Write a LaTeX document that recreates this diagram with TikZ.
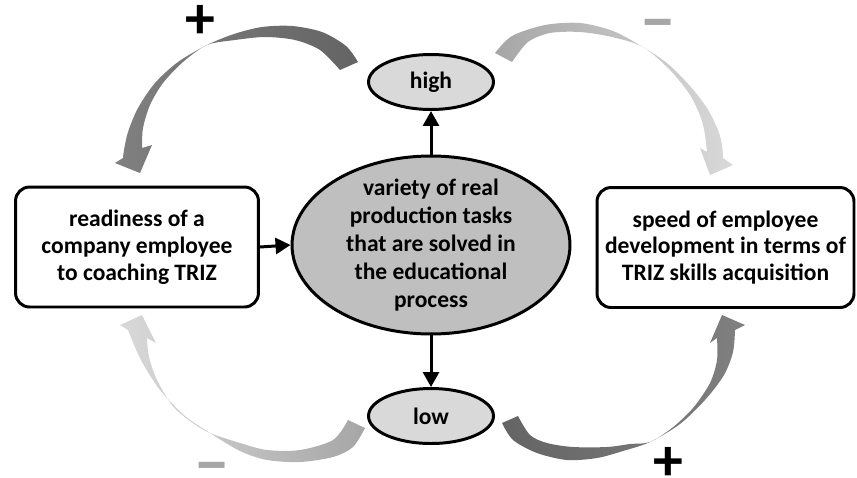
\documentclass[tikz,border=0pt]{standalone}
\usepackage{fontspec}
\setmainfont{Carlito}
\usetikzlibrary{arrows.meta, positioning, shapes.geometric}
\definecolor{taskgray}{RGB}{191,191,191}
\definecolor{levelgray}{RGB}{217,217,217}
\definecolor{darkarc}{RGB}{100,100,100}
\definecolor{midarc}{RGB}{128,128,128}
\definecolor{lightarc}{RGB}{166,166,166}
\definecolor{palearc}{RGB}{217,217,217}

\begin{document}
\begin{tikzpicture}[
    x=0.02cm, y=-0.02cm,
    box/.style={rectangle, draw, line width=1.7pt, rounded corners=8pt, fill=white, align=center, inner sep=0pt, minimum height=2.4cm, font=\bfseries\fontsize{13.4}{15.3}\selectfont},
    level/.style={ellipse, draw, line width=1.7pt, fill=levelgray, inner sep=0pt, minimum width=2.5cm, minimum height=1.1cm, font=\bfseries\fontsize{13.4}{15.3}\selectfont},
    arr/.style={-{Triangle[length=3mm, width=3.2mm]}, line width=1.7pt},
    sign/.style={font=\bfseries\fontsize{34}{36}\selectfont, inner sep=0pt},
    minus/.style={sign, text=lightarc, anchor=base, font=\bfseries\fontsize{38}{40}\selectfont},
]
\useasboundingbox (0,0) rectangle (857,477);

% nodes
\node[box, minimum width=4.86cm] (ready) at (137,247) {readiness of a\\company employee\\to coaching TRIZ};
\node[box, minimum width=5.14cm] (speed) at (725.5,247.5) {speed of employee\\development in terms of\\TRIZ skills acquisition};
\node[ellipse, draw, line width=1.7pt, fill=taskgray, inner sep=0pt, minimum width=5.56cm, minimum height=3.56cm] (task) at (431,245) {};
\node[align=center, font=\bfseries\fontsize{13.4}{15.9}\selectfont] (tasktext) at (task.center) {variety of real\\production tasks\\that are solved in\\the educational\\process};
\node[level] (high) at (431,82) {high};
\node[level] (low) at (431,416) {low};

% straight links
\draw[arr] (ready.east) -- (task.west);
\draw[arr] (task.north) -- (high.south);
\draw[arr] (task.south) -- (low.north);

% curved feedback arrows
\shade[left color=midarc, right color=darkarc]
  plot[smooth] coordinates {(358,62) (346,46) (322,32) (292,26) (262,27) (234,34) (207,45) (178,62) (155,83) (138,108) (128,132) (124,150) (123,158)}
  -- (115,163) -- (140,173) -- (152,145) -- (142,148)
  -- plot[smooth] coordinates {(142,148) (143,128) (150,105) (163,83) (183,62) (207,45) (235,40) (265,37) (295,40) (320,50) (340,70)}
  -- cycle;
\shade[left color=lightarc, right color=palearc]
  plot[smooth] coordinates {(495,53) (512,36) (545,25) (580,23) (613,31) (643,47) (668,64) (690,86) (707,108) (718,130) (722,145) (723,158)}
  -- (733,165) -- (710,175) -- (700,148) -- (707,152)
  -- plot[smooth] coordinates {(707,152) (705,135) (701,118) (690,95) (670,70) (643,47) (612,37) (580,32) (550,33) (528,42) (512,62)}
  -- cycle;
\shade[left color=palearc, right color=lightarc]
  plot[smooth] coordinates {(365,428) (353,447) (333,457) (300,462) (267,460) (240,451) (210,433) (185,416) (160,390) (142,362) (132,340) (128,330)}
  -- (120,325) -- (142,315) -- (156,343) -- (147,338)
  -- plot[smooth] coordinates {(147,338) (149,357) (157,380) (172,405) (190,421) (210,433) (240,443) (267,450) (300,450) (333,440) (348,420)}
  -- cycle;
\shade[left color=darkarc, right color=midarc]
  plot[smooth] coordinates {(502,423) (513,440) (537,453) (567,460) (597,458) (623,451) (650,442) (680,424) (705,400) (724,375) (733,352) (735,330)}
  -- (745,325) -- (722,315) -- (710,343) -- (717,338)
  -- plot[smooth] coordinates {(717,338) (717,360) (710,383) (693,408) (672,428) (650,442) (630,444) (607,447) (573,447) (547,443) (530,435) (518,416)}
  -- cycle;

% signs
\node[sign] (tlsign) at (200,22) {+};
\node[minus] (trsign) at (658,43) {−};
\node[minus] (blsign) at (212,486) {−};
\node[sign] (brsign) at (668,464) {+};
\end{tikzpicture}
\end{document}
